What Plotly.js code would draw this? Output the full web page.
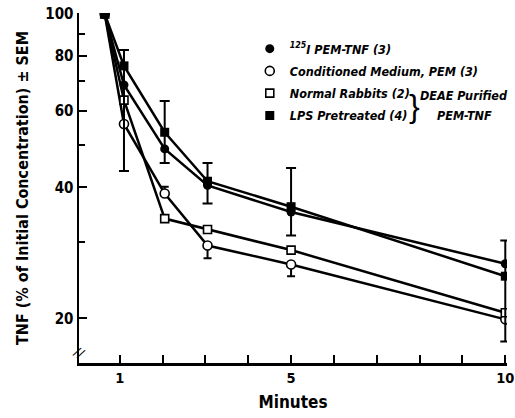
<!DOCTYPE html>
<html><head><meta charset="utf-8">
<script src="https://cdn.plot.ly/plotly-3.0.1.min.js"></script>
<style>html,body{margin:0;padding:0;background:#fff}</style>
</head><body><div id="chart" style="width:515px;height:418px"></div>
<script>
// Time (minutes)
const minutes = [0.65, 1.1, 2.05, 3.05, 5, 10];

// TNF (% of initial concentration)
const pemTnf125I   = [100, 68.7, 49.0, 40.4, 35.1, 26.7];
const condMedium   = [100, 55.9, 38.7, 29.4, 26.6, 19.9];
const normalRabbit = [100, 63.4, 33.9, 32.0, 28.7, 20.6];
const lpsPretreat  = [100, 76.0, 53.5, 41.3, 36.1, 25.0];

// SEM (upper / lower lengths); NaN = no bar drawn
const pemTnfPlus   = [NaN, NaN, NaN, 5.1, NaN, NaN];
const pemTnfMinus  = [NaN, NaN, NaN, 3.7, NaN, NaN];
const condPlus     = [NaN, NaN, 1.4, 0, 0, NaN];
const condMinus    = [NaN, NaN, 0, 1.9, 1.6, NaN];
const lpsPlus      = [NaN, 6.6, 9.6, NaN, 8.2, 5.2];
const lpsMinus     = [NaN, 32.4, 8.0, NaN, 5.1, 7.3];

const seriesNames = [
  '<sup>125</sup>I PEM-TNF (3)',
  'Conditioned Medium, PEM (3)',
  'Normal Rabbits (2)',
  'LPS Pretreated (4)'
];
const xTickVals = [1,2,3,4,5,6,7,8,9,10];
const xTickText = ['1','','','','5','','','','','10'];
const yTickVals = [20,40,60,80,100];
const yMinorVals = [30,50,70,90];

const FONT = '"Liberation Sans Narrow", "DejaVu Sans Condensed", Arial, sans-serif';
const lineStyle = {color:'#000', width:2.5};

function eb(plus, minus, w){
  return {type:'data', symmetric:false, array:plus, arrayminus:minus,
          color:'#000', thickness:2, width:w, visible:true};
}

const allY = [pemTnf125I, condMedium, normalRabbit, lpsPretreat];
const markers = [
  {symbol:'circle', size:9, color:'#000'},
  {symbol:'circle', size:9, color:'#fff', line:{color:'#000', width:1.6}},
  {symbol:'square', size:8, color:'#fff', line:{color:'#000', width:1.6}},
  {symbol:'square', size:9, color:'#000'}
];
const errs = [eb(pemTnfPlus, pemTnfMinus, 5), eb(condPlus, condMinus, 4), undefined, eb(lpsPlus, lpsMinus, 5)];

const traces = [];
allY.forEach((y, i) => {
  traces.push({x:minutes, y:y, mode:'lines', line:lineStyle, showlegend:false, hoverinfo:'skip'});
});
allY.forEach((y, i) => {
  const t = {x:minutes, y:y, name:seriesNames[i], mode:'markers', marker:markers[i],
             legendgroup:'g'+i};
  if (errs[i]) t.error_y = errs[i];
  traces.push(t);
});

const legFont = {family:FONT, size:12.5, style:'italic', weight:'bold', color:'#000'};

const layout = {
  width:515, height:418,
  margin:{l:79, r:8, t:13, b:55},
  paper_bgcolor:'#fff', plot_bgcolor:'#fff',
  font:{family:FONT, color:'#000'},
  showlegend:true,
  legend:{x:0.399, y:0.94, xanchor:'left', yanchor:'top', bgcolor:'rgba(0,0,0,0)',
          font:legFont, tracegroupgap:3},
  xaxis:{range:[0.05,10.04], showgrid:false, zeroline:false, showline:true,
         linecolor:'#000', linewidth:2.5, ticks:'inside', ticklen:8, tickwidth:2,
         tickcolor:'#000', tickmode:'array', tickvals:xTickVals, ticktext:xTickText,
         ticklabeloverflow:'allow',
         tickfont:{family:FONT, size:14.5, weight:'bold'},
         title:{text:'Minutes', font:{family:FONT, size:17, weight:'bold'}, standoff:11}},
  yaxis:{type:'log', range:[Math.log10(15.8), Math.log10(100.5)], showgrid:false,
         zeroline:false, showline:true, linecolor:'#000', linewidth:2.5,
         ticks:'inside', ticklen:8, tickwidth:2, tickcolor:'#000',
         tickmode:'array', tickvals:yTickVals, ticktext:yTickVals.map(String),
         ticklabeloverflow:'allow',
         tickfont:{family:FONT, size:15, weight:'bold'},
         minor:{tickmode:'array', tickvals:yMinorVals, ticks:'inside', ticklen:6,
                tickwidth:2, tickcolor:'#000', showgrid:false},
         title:{text:'TNF (% of Initial Concentration) \u00b1 SEM',
                font:{family:FONT, size:16, weight:'bold'}, standoff:13}},
  annotations:[
    {xref:'paper', yref:'paper', x:0.9, y:0.763, text:'DEAE Purified',
     showarrow:false, font:legFont, xanchor:'center', yanchor:'middle'},
    {xref:'paper', yref:'paper', x:0.9, y:0.706, text:'PEM-TNF',
     showarrow:false, font:legFont, xanchor:'center', yanchor:'middle'},
    {xref:'paper', yref:'paper', x:0.785, y:0.734, text:'}', showarrow:false,
     font:{family:'Liberation Sans', size:32, color:'#000'},
     xanchor:'center', yanchor:'middle'},
    {xref:'paper', yref:'paper', x:0, y:0.031, text:'//', showarrow:false, textangle:30,
     font:{family:'DejaVu Sans', size:13, color:'#000'}, xanchor:'center', yanchor:'middle'}
  ]
};

Plotly.newPlot('chart', traces, layout, {displayModeBar:false, staticPlot:true});
</script></body></html>
